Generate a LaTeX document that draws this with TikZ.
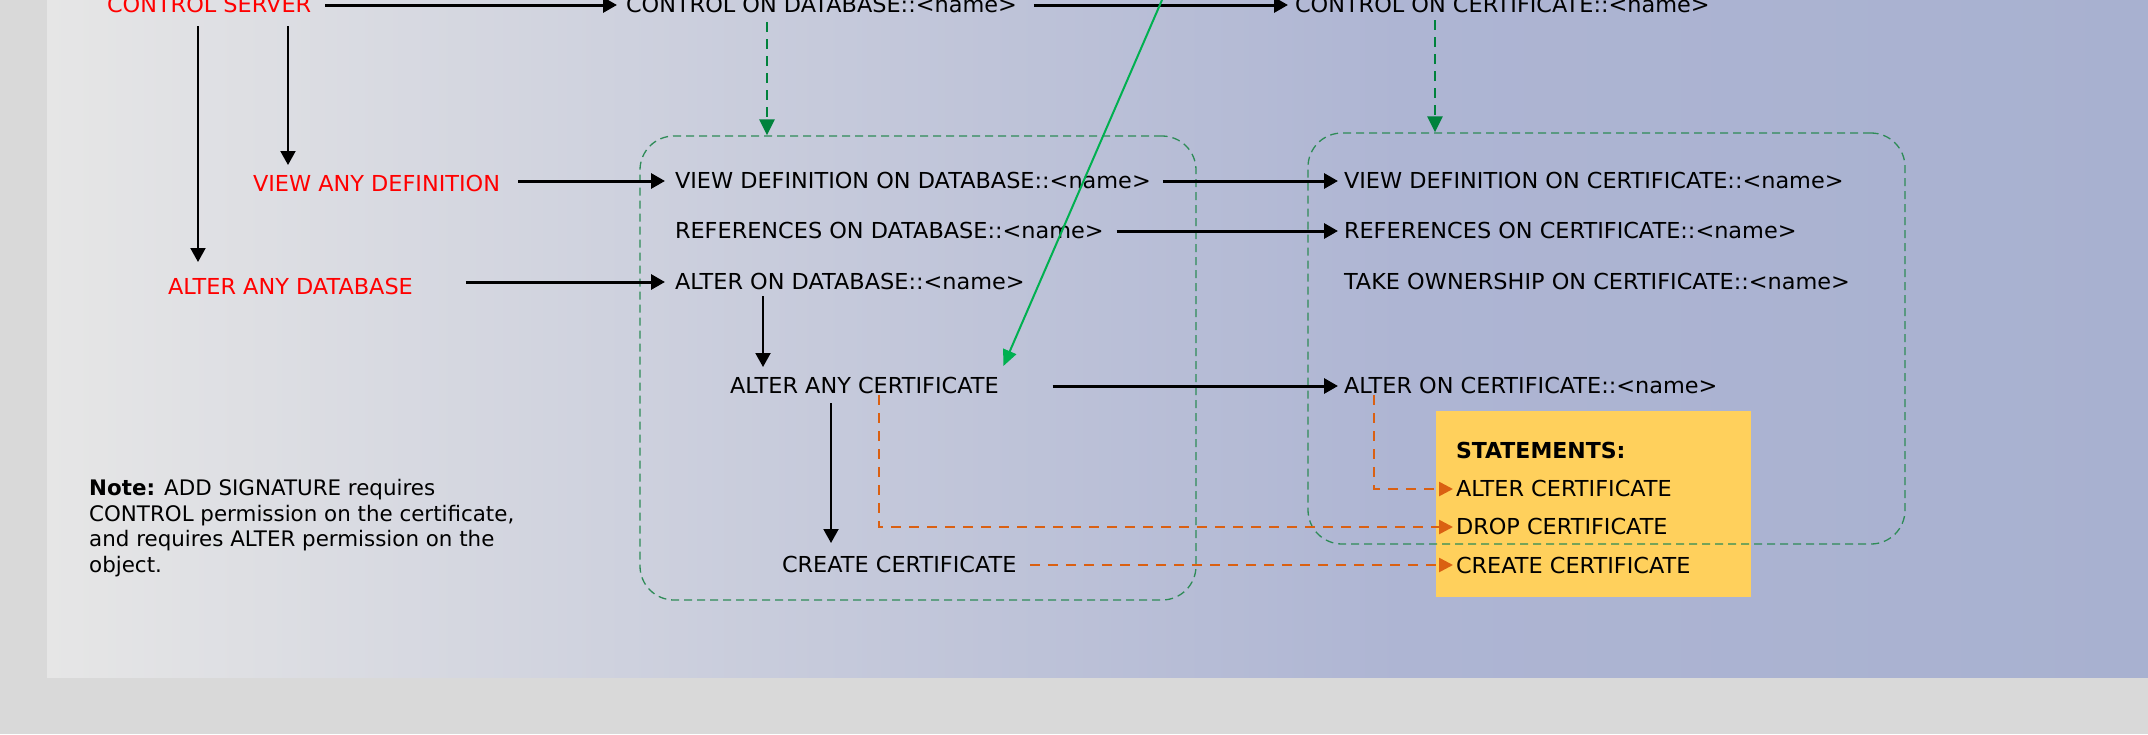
\documentclass[tikz,border=0pt]{standalone}
\usepackage{fontspec}
\setmainfont{DejaVu Sans}
\newfontfamily\lblfont{DejaVu Sans}[FakeStretch=1.018]
\usetikzlibrary{arrows.meta}

\definecolor{pagegray}{RGB}{217,217,217}
\definecolor{panelL}{RGB}{230,230,230}
\definecolor{panelM}{RGB}{174,181,211}
\definecolor{panelR}{RGB}{168,177,208}
\definecolor{grpgreen}{RGB}{46,139,87}
\definecolor{inhgreen}{RGB}{0,130,60}
\definecolor{linkgreen}{RGB}{0,176,80}
\definecolor{stmtorange}{RGB}{218,96,18}
\definecolor{stmtyellow}{RGB}{255,208,92}
\definecolor{srvred}{RGB}{255,0,0}

\begin{document}
\begin{tikzpicture}[x=1pt,y=-1pt,
  lbl/.style={inner sep=0pt, outer sep=0pt, text height=16pt, text depth=2pt,
              anchor=base west, font=\fontsize{22}{26}\lblfont},
  srv/.style={lbl, text=srvred},
  grpbox/.style={draw=grpgreen, line width=1.3pt, dash pattern=on 8pt off 5pt,
                 rounded corners=34pt, inner sep=0pt},
  tipk/.style={-{Triangle[length=14pt,width=15pt]}},
  harrow/.style={tipk, line width=3pt, black},
  varrow/.style={tipk, line width=2pt, black},
  gdarrow/.style={-{Triangle[length=16pt,width=15pt]}, inhgreen, line width=2.5pt,
                  dash pattern=on 10pt off 7pt},
  glink/.style={-{Triangle[length=16pt,width=14pt]}, linkgreen, line width=2pt},
  odash/.style={-{Triangle[length=14pt,width=14pt]}, stmtorange, line width=2.6pt,
                dash pattern=on 10pt off 8pt},
]
\useasboundingbox (0,0) rectangle (2148,734);

% page and gradient panel
\fill[pagegray] (0,0) rectangle (2148,734);
\shade[left color=panelL, right color=panelM] (47,-2) rectangle (1400.5,677);
\shade[left color=panelM, right color=panelR] (1400,-2) rectangle (2148,677);

% statements box
\node[fill=stmtyellow, minimum width=315pt, minimum height=186pt, inner sep=0pt,
      anchor=north west] (stmtbox) at (1436,411) {};

% database-scoped and certificate-scoped groups
\node[grpbox, minimum width=556pt, minimum height=464pt] (dbgrp) at (918,368) {};
\node[grpbox, minimum width=597pt, minimum height=411pt] (certgrp) at (1606.5,338.5) {};

% server-level permissions
\node[srv] (cs)   at (107,12)  {CONTROL SERVER};
\node[srv] (vad)  at (253,191) {VIEW ANY DEFINITION};
\node[srv] (aad)  at (168,294) {ALTER ANY DATABASE};

% database-level permissions
\node[lbl] (cdb)   at (626,12)  {CONTROL ON DATABASE::<name>};
\node[lbl] (vddb)  at (675,188) {VIEW DEFINITION ON DATABASE::<name>};
\node[lbl] (refdb) at (675,238) {REFERENCES ON DATABASE::<name>};
\node[lbl] (altdb) at (675,289) {ALTER ON DATABASE::<name>};
\node[lbl] (aac)   at (730,393) {ALTER ANY CERTIFICATE};
\node[lbl] (ccdb)  at (782,572) {CREATE CERTIFICATE};

% certificate-level permissions
\node[lbl] (ccert) at (1295,12)  {CONTROL ON CERTIFICATE::<name>};
\node[lbl] (vdc)   at (1344,188) {VIEW DEFINITION ON CERTIFICATE::<name>};
\node[lbl] (refc)  at (1344,238) {REFERENCES ON CERTIFICATE::<name>};
\node[lbl] (takec) at (1344,289) {TAKE OWNERSHIP ON CERTIFICATE::<name>};
\node[lbl] (altc)  at (1344,393) {ALTER ON CERTIFICATE::<name>};

% statements
\node[lbl, font=\fontsize{22}{26}\selectfont\bfseries] (sthead) at (1456,458) {STATEMENTS:};
\node[lbl] (salt)    at (1456,496) {ALTER CERTIFICATE};
\node[lbl] (sdrop)   at (1456,534) {DROP CERTIFICATE};
\node[lbl] (screate) at (1456,573) {CREATE CERTIFICATE};

% note
\node[anchor=north west, inner sep=0pt, align=left,
      font=\fontsize{21.4}{25.7}\selectfont] (note) at (89,479)
  {\textbf{Note:} ADD SIGNATURE requires\\
   CONTROL permission on the certificate,\\
   and requires ALTER permission on the\\
   object.};

% horizontal implications
\draw[harrow, shorten <=14pt, shorten >=9pt] (cs.east) -- (cs.east -| cdb.west);
\draw[harrow, shorten <=17pt, shorten >=7pt] (cdb.east) -- (cdb.east -| ccert.west);
\draw[harrow, shorten <=18pt, shorten >=10pt] (vddb.west -| vad.east) -- (vddb.west);
\draw[harrow, shorten <=53pt, shorten >=10pt] (altdb.west -| aad.east) -- (altdb.west);
\draw[harrow, shorten <=12pt, shorten >=6pt] (vddb.east) -- (vdc.west);
\draw[harrow, shorten <=13pt, shorten >=6pt] (refdb.east) -- (refc.west);
\draw[harrow, shorten <=54pt, shorten >=6pt] (aac.east) -- (altc.west);

% vertical implications
\draw[varrow, shorten <=12pt, shorten >=16pt] (198,0 |- cs.south) -- (198,0 |- aad.north);
\draw[varrow, shorten <=12pt, shorten >=10pt] (288,0 |- cs.south) -- (288,0 |- vad.north);
\draw[varrow, shorten <=5pt, shorten >=10pt] (763,0 |- altdb.south) -- (763,0 |- aac.north);
\draw[varrow, shorten <=8pt, shorten >=13pt] (831,0 |- aac.south) -- (831,0 |- ccdb.north);

% CONTROL covers the whole group below it
\draw[gdarrow, shorten <=8pt] (767,0 |- cdb.south) -- (767,0 |- dbgrp.north);
\draw[gdarrow, shorten <=6pt] (1435,0 |- ccert.south) -- (1435,0 |- certgrp.north);

% link from above into ALTER ANY CERTIFICATE
\coordinate (upper) at (1162,0);
\draw[glink, shorten >=12pt] (upper) -- (aac.north east);

% permissions required by the statements
\draw[odash, shorten >=3pt] (879,0 |- aac.south) |- (sdrop.west);
\draw[odash, shorten <=14pt, shorten >=3pt] (ccdb.east) -- (ccdb.east -| screate.west);
\draw[odash, shorten >=3pt] (1374,0 |- altc.south) |- (salt.west);
\end{tikzpicture}
\end{document}
